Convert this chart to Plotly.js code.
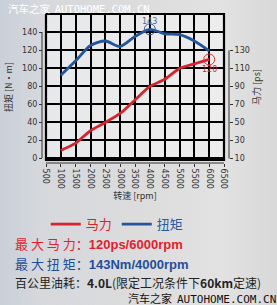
<!DOCTYPE html>
<html>
<head>
<meta charset="utf-8">
<script src="https://cdn.plot.ly/plotly-3.0.1.min.js"></script>
<style>
html,body{margin:0;padding:0;}
body{width:277px;height:305px;overflow:hidden;
background:linear-gradient(90deg,#c9d0da 0%,#d6d8dc 15%,#dcdcdc 50%,#e2e2e2 80%,#d8d8d8 100%);}
#chart{width:277px;height:305px;}
</style>
</head>
<body>
<div id="chart"></div>
<script>
// Data
const rpm = [1000,1500,2000,2500,3000,3500,4000,4500,5000,5500,6000];
const torqueNm = [92,108,125,130,124,135,143,138,137,130,119];
const powerPs = [19,27,41,50,60,75,90,98,110,115,120];
const xTicks = [500,1000,1500,2000,2500,3000,3500,4000,4500,5000,5500,6000,6500];
const torqueTicks = [0,20,40,60,80,100,120,140];
const powerTicks = [10,30,50,70,90,110,130];
const peakTorque = {rpm:4000, value:143};
const peakPower = {rpm:6000, value:120};

const CJK = '"Noto Sans CJK SC", "Noto Sans", sans-serif';
const red = '#d8232e', blue = '#23559c';

const xd = [(46-42)/187, (224-42)/187];
const yd = [3/149, 1];

const traces = [
  {x: rpm, y: powerPs, yaxis:'y2', mode:'lines', line:{color:red, width:2.8, shape:'spline', smoothing:0.6},
   name:'<span style="color:#d8232e">马力</span>'},
  {x: rpm, y: torqueNm, yaxis:'y', mode:'lines', line:{color:blue, width:2.8, shape:'spline', smoothing:0.8},
   name:'<span style="color:#2a5aa0">扭矩</span>'},
  {x:[peakTorque.rpm], y:[peakTorque.value], yaxis:'y', mode:'markers', showlegend:false,
   marker:{symbol:'circle-open', size:11, color:'#3b5f95', line:{width:1}}},
  {x:[peakPower.rpm], y:[peakPower.value], yaxis:'y2', mode:'markers', showlegend:false,
   marker:{symbol:'circle-open', size:11, color:'#e0303a', line:{width:1}}}
];

const layout = {
  width:277, height:305,
  margin:{l:42, r:48, t:14, b:142},
  paper_bgcolor:'rgba(0,0,0,0)',
  plot_bgcolor:'rgba(0,0,0,0)',
  showlegend:true,
  legend:{orientation:'h', x:0.02, y:-0.31, xanchor:'left', yanchor:'top',
    font:{family:CJK, size:13}, bgcolor:'rgba(0,0,0,0)', itemwidth:30, traceorder:'normal'},
  xaxis:{domain:xd, range:[500,6500], tickvals:xTicks, tickangle:90, anchor:'free', position:0,
    showgrid:true, gridcolor:'#000', gridwidth:2, zeroline:false, showline:false,
    ticks:'outside', ticklen:3, tickcolor:'#333', tickfont:{family:'DejaVu Sans', size:8, color:'#333'},
    title:{text:'转速 [rpm]', font:{family:CJK, size:9, color:'#333'}, standoff:4}},
  yaxis:{domain:yd, range:[-2.2,160], tickvals:torqueTicks, anchor:'free', position:0,
    showgrid:true, gridcolor:'#000', gridwidth:2, zeroline:false, showline:false,
    ticks:'outside', ticklen:3, tickcolor:'#333', tickfont:{family:'DejaVu Sans', size:8, color:'#333'},
    title:{text:'扭矩 [N·m]', font:{family:CJK, size:9, color:'#333'}, standoff:6}},
  yaxis2:{overlaying:'y', side:'right', anchor:'free', position:1, range:[8.3,170.5], tickvals:powerTicks,
    showgrid:false, zeroline:false, showline:false,
    ticks:'outside', ticklen:3, tickcolor:'#333', tickfont:{family:'DejaVu Sans', size:8, color:'#333'},
    title:{text:'马力 [ps]', font:{family:CJK, size:9, color:'#333'}, standoff:2}},
  shapes:[
    {type:'rect', xref:'paper', yref:'paper', x0:xd[0], x1:xd[1], y0:yd[0], y1:yd[1], line:{color:'#000', width:2.2}, layer:'above'},
    {type:'rect', xref:'paper', yref:'paper', x0:xd[0], x1:xd[1], y0:yd[0], y1:yd[1], line:{width:0}, fillcolor:'rgba(245,245,245,0.55)', layer:'below'},
    {type:'line', xref:'paper', yref:'y', x0:0, x1:0, y0:0, y1:140, line:{color:'#333', width:1}},
    {type:'line', xref:'paper', yref:'y2', x0:1, x1:1, y0:10, y1:130, line:{color:'#333', width:1}},
    {type:'line', xref:'x', yref:'paper', x0:500, x1:6500, y0:0, y1:0, line:{color:'#333', width:1}}
  ],
  annotations:[
    {x:peakTorque.rpm, y:peakTorque.value, yref:'y', text:String(peakTorque.value), showarrow:false, yshift:8,
     font:{family:'DejaVu Sans', size:8, color:'#4a6a9a'}},
    {x:peakPower.rpm, y:peakPower.value, yref:'y2', text:String(peakPower.value), showarrow:false, yshift:-10,
     font:{family:'DejaVu Sans', size:8, color:'#d8232e'}},
    {xref:'paper', yref:'paper', x:-0.155, y:(305-243-142)/149, xanchor:'left', yanchor:'middle', showarrow:false,
     text:'<span style="font-family:Noto Sans CJK SC">最 大 马 力：</span><b>120ps/6000rpm</b>',
     font:{family:'"Liberation Sans Narrow", "Liberation Sans", sans-serif', size:13, color:'#e3202e'}},
    {xref:'paper', yref:'paper', x:-0.155, y:(305-263-142)/149, xanchor:'left', yanchor:'middle', showarrow:false,
     text:'<span style="font-family:Noto Sans CJK SC">最 大 扭 矩：</span><b>143Nm/4000rpm</b>',
     font:{family:'"Liberation Sans Narrow", "Liberation Sans", sans-serif', size:13, color:'#1f4f9a'}},
    {xref:'paper', yref:'paper', x:-0.155, y:(305-282-142)/149, xanchor:'left', yanchor:'middle', showarrow:false,
     text:'百公里油耗：<b>4.0L</b>(限定工况条件下<b>60km</b>定速)',
     font:{family:CJK, size:12, color:'#222'}},
    {xref:'paper', yref:'paper', x:-0.19, y:(305-8-142)/149, xanchor:'left', yanchor:'middle', showarrow:false,
     text:'汽车之家  <span style="font-family:DejaVu Sans Mono">AUTOHOME.COM.CN</span>',
     font:{family:CJK, size:10.5, color:'#ffffff'}},
    {xref:'paper', yref:'paper', x:1.26, y:(305-298-142)/149, xanchor:'right', yanchor:'middle', showarrow:false,
     text:'汽车之家  <span style="font-family:DejaVu Sans Mono">AUTOHOME.COM.CN</span>',
     font:{family:CJK, size:11, color:'#111'}}
  ]
};

Plotly.newPlot('chart', traces, layout, {displayModeBar:false, staticPlot:true});
</script>
</body>
</html>
